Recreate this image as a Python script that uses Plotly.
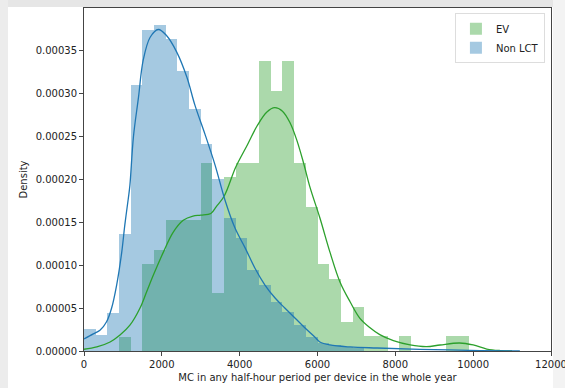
import numpy as np
import plotly.graph_objects as go

# histogram bins (left edges), width 300
bin_width = 300
bin_left = np.arange(0, 9900, bin_width)
bin_mid = bin_left + bin_width / 2

# density per bin
ev_density = [0, 0, 0, 1.68e-5, 0, 1.01e-4, 1.18e-4, 1.52e-4, 1.52e-4, 1.52e-4,
              2.19e-4, 0.67e-4, 2.02e-4, 2.19e-4, 2.19e-4, 3.37e-4, 3.03e-4, 3.37e-4,
              2.19e-4, 1.68e-4, 1.01e-4, 0.84e-4, 0.34e-4, 0.51e-4, 0.17e-4, 0.17e-4,
              0, 0.17e-4, 0, 0, 0, 0.17e-4, 0.17e-4]
nonlct_density = [2.56e-5, 1.86e-5, 4.42e-5, 1.36e-4, 3.10e-4, 3.73e-4, 3.79e-4, 3.63e-4,
                  3.26e-4, 2.81e-4, 2.41e-4, 2.00e-4, 1.55e-4, 1.31e-4, 0.94e-4, 0.77e-4,
                  0.57e-4, 0.45e-4, 0.30e-4, 0.16e-4, 0.09e-4, 0.07e-4, 0.05e-4, 0.03e-4,
                  0, 0, 0, 0, 0, 0, 0, 0, 0]

# kde curves
ev_kde_x = [0, 330, 670, 925, 1180, 1440, 1610, 1780, 2040, 2290, 2550, 2800, 3000, 3260,
            3400, 3600, 3900, 4200, 4450, 4700, 4900, 5100, 5300, 5470, 5640, 5810, 6060,
            6320, 6580, 6840, 7090, 7350, 7600, 7950, 8380, 8800, 9150, 9650, 10000, 10350,
            10700, 11000]
ev_kde_y = [2e-6, 4.7e-6, 1.05e-5, 1.86e-5, 3.0e-5, 5.0e-5, 6.9e-5, 8.8e-5, 1.15e-4, 1.38e-4,
            1.52e-4, 1.57e-4, 1.58e-4, 1.60e-4, 1.68e-4, 1.80e-4, 2.14e-4, 2.40e-4, 2.62e-4,
            2.78e-4, 2.83e-4, 2.79e-4, 2.65e-4, 2.45e-4, 2.19e-4, 1.90e-4, 1.55e-4, 1.15e-4,
            8.0e-5, 5.7e-5, 3.8e-5, 2.7e-5, 1.9e-5, 1.2e-5, 7e-6, 5e-6, 7e-6, 9.3e-6, 7e-6,
            2.3e-6, 5e-7, 0]
nonlct_kde_x = [0, 240, 410, 580, 710, 840, 970, 1050, 1140, 1180, 1270, 1400, 1520, 1700,
                1910, 2120, 2380, 2640, 2850, 3110, 3370, 3620, 3880, 4140, 4390, 4650, 4910,
                5160, 5420, 5680, 5930, 6060, 6320, 6840, 7530, 8630, 10180, 11200]
nonlct_kde_y = [1.4e-5, 2.0e-5, 2.4e-5, 3.4e-5, 5.0e-5, 7.7e-5, 1.15e-4, 1.47e-4, 1.78e-4,
                1.93e-4, 2.49e-4, 2.95e-4, 3.38e-4, 3.65e-4, 3.74e-4, 3.67e-4, 3.48e-4,
                3.19e-4, 2.86e-4, 2.52e-4, 2.16e-4, 1.76e-4, 1.43e-4, 1.20e-4, 9.65e-5,
                7.67e-5, 6.16e-5, 5.0e-5, 3.84e-5, 2.67e-5, 1.63e-5, 1.05e-5, 7e-6, 4.7e-6,
                3.5e-6, 2e-6, 5e-7, 0]

x_ticks = [0, 2000, 4000, 6000, 8000, 10000, 12000]
y_ticks = [0, 0.00005, 0.0001, 0.00015, 0.0002, 0.00025, 0.0003, 0.00035]

green = '#2ca02c'
blue = '#1f77b4'

fig = go.Figure()
fig.add_bar(x=bin_mid, y=ev_density, width=bin_width, name='EV',
            marker=dict(color='rgba(44,160,44,0.4)', line=dict(width=0)))
fig.add_scatter(x=ev_kde_x, y=ev_kde_y, mode='lines', line=dict(color=green, width=1.3, shape='spline'),
                showlegend=False, hoverinfo='skip')
fig.add_bar(x=bin_mid, y=nonlct_density, width=bin_width, name='Non LCT',
            marker=dict(color='rgba(31,119,180,0.4)', line=dict(width=0)))
fig.add_scatter(x=nonlct_kde_x, y=nonlct_kde_y, mode='lines', line=dict(color=blue, width=1.3, shape='spline'),
                showlegend=False, hoverinfo='skip')

axis_style = dict(showline=True, mirror=True, linecolor='#444', linewidth=1, ticks='outside',
                  ticklen=4, tickcolor='#444', showgrid=False, zeroline=False, automargin=False,
                  ticklabeloverflow='allow', tickfont=dict(size=10, color='#222'))

# grey screenshot frame around the figure
frame = [
    dict(type='rect', xref='paper', yref='paper', x0=-0.19, x1=1.04, y0=1.0029, y1=1.03,
         fillcolor='#e6e6e6', line=dict(width=0), layer='below'),
    dict(type='rect', xref='paper', yref='paper', x0=-0.19, x1=-0.1627, y0=-0.11, y1=1.03,
         fillcolor='#ececec', line=dict(width=0), layer='below'),
    dict(type='rect', xref='paper', yref='paper', x0=1.0043, x1=1.04, y0=-0.11, y1=1.03,
         fillcolor='#f3f3f3', line=dict(width=0), layer='below'),
]

fig.update_layout(
    width=565, height=388,
    margin=dict(l=84, r=14, t=8, b=37),
    barmode='overlay', bargap=0,
    paper_bgcolor='white', plot_bgcolor='white',
    font=dict(family='DejaVu Sans', size=10, color='#222'),
    xaxis=dict(range=[0, 12000], tickvals=x_ticks, tickformat='d',
               title=dict(text='MC in any half-hour period per device in the whole year',
                          font=dict(size=10), standoff=4),
               **axis_style),
    yaxis=dict(range=[0, 0.000399], tickvals=y_ticks, tickformat='.5f',
               title=dict(text='Density', font=dict(size=10), standoff=6),
               **axis_style),
    legend=dict(x=0.987, y=0.985, xanchor='right', yanchor='top', bgcolor='white',
                bordercolor='#dddddd', borderwidth=1, font=dict(size=10),
                traceorder='normal', tracegroupgap=0),
    shapes=frame,
)

fig.write_html("out.html", config={'displayModeBar': False},
               post_script="document.body.style.margin='0';")
